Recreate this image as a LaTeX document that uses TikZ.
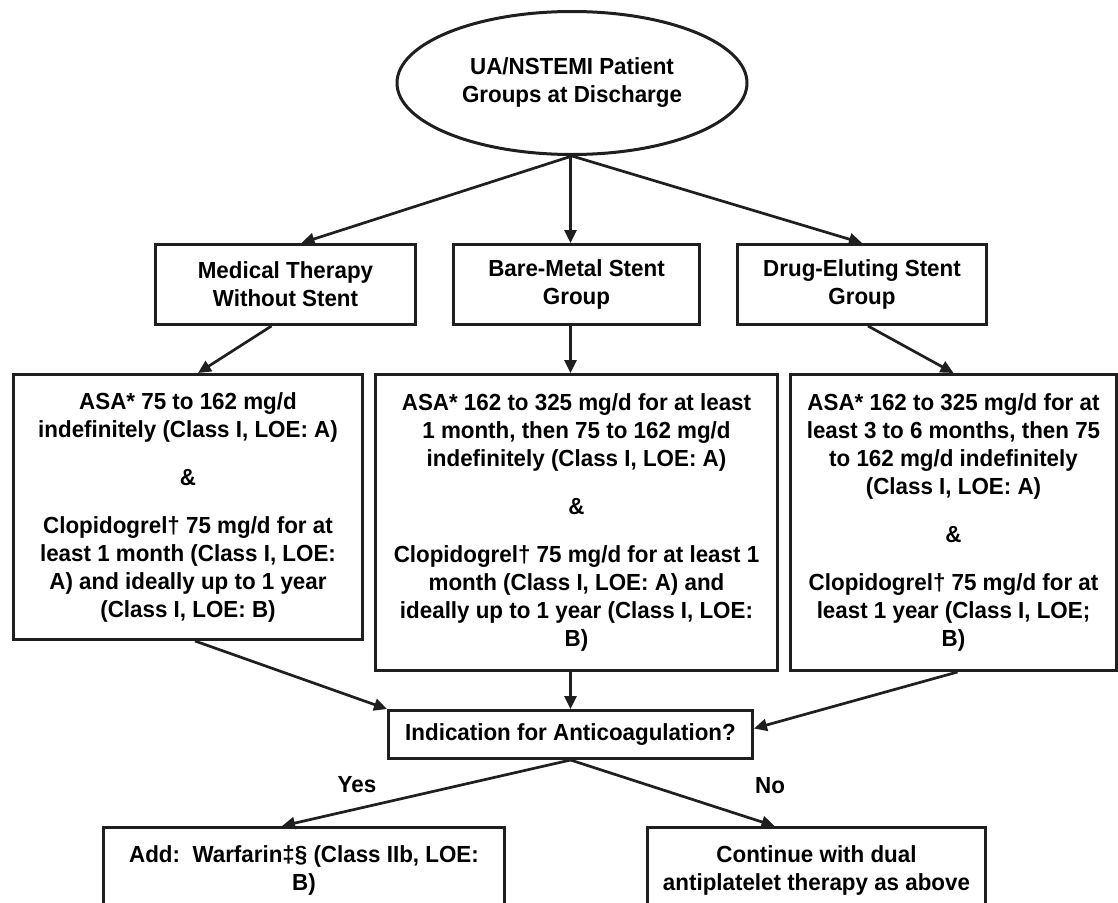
\documentclass[tikz,border=0pt]{standalone}
\usepackage{fontspec}
\setmainfont{Liberation Sans}[FakeStretch=0.96]
\usetikzlibrary{arrows.meta,shapes.geometric,calc}
\definecolor{ln}{gray}{0.12}
\begin{document}
\begin{tikzpicture}[x=1pt,y=-1pt,
  every node/.style={font=\fontsize{23.3pt}{28pt}\selectfont\bfseries, text=black},
  box/.style={draw=ln, line width=3pt, rectangle, align=center, inner sep=0pt, anchor=north west},
  arr/.style={draw=ln, line width=2.7pt, -{Triangle[length=13pt,width=12pt]}},
  lab/.style={anchor=center}
]
\useasboundingbox (0,0) rectangle (1118,902);
\fill[white] (0,0) rectangle (1118,902);
\clip (0,0) rectangle (1118,902);

\node[ellipse, draw=ln, line width=3pt, minimum width=350pt, minimum height=143pt, inner sep=0pt, align=center] (e) at (572,83) {UA/NSTEMI Patient\\Groups at Discharge};

\node[box, minimum width=260pt, minimum height=80pt] (med) at (154,243) {Medical Therapy\\Without Stent};
\node[box, minimum width=246pt, minimum height=80pt] (bare) at (452,243) {Bare-Metal Stent\\Group};
\node[box, minimum width=249pt, minimum height=80pt] (drug) at (736,243) {Drug-Eluting Stent\\Group};

\node[box, minimum width=349pt, minimum height=265pt] (lb) at (12,373)
 {ASA* 75 to 162 mg/d\\indefinitely (Class I, LOE: A)\\[20pt]\&\\[20pt]Clopidogrel† 75 mg/d for at\\least 1 month (Class I, LOE:\\A) and ideally up to 1 year\\(Class I, LOE: B)};
\node[box, minimum width=402pt, minimum height=296pt] (mb) at (374,373)
 {ASA* 162 to 325 mg/d for at least\\1 month, then 75 to 162 mg/d\\indefinitely (Class I, LOE: A)\\[20pt]\&\\[20pt]Clopidogrel† 75 mg/d for at least 1\\month (Class I, LOE: A) and\\ideally up to 1 year (Class I, LOE:\\B)};
\node[box, minimum width=326pt, minimum height=296pt] (rb) at (789,373)
 {ASA* 162 to 325 mg/d for at\\least 3 to 6 months, then 75\\to 162 mg/d indefinitely\\(Class I, LOE: A)\\[20pt]\&\\[20pt]Clopidogrel† 75 mg/d for at\\least 1 year (Class I, LOE;\\B)};

\node[box, minimum width=364pt, minimum height=48pt] (ind) at (387,709) {Indication for Anticoagulation?};

\node[box, minimum width=401pt, minimum height=85pt] (yes) at (102,826) {Add:\ \ Warfarin‡§ (Class IIb, LOE:\\B)};
\node[box, minimum width=338pt, minimum height=85pt] (no) at (646,826) {Continue with dual\\antiplatelet therapy as above};

\node[lab] (yl) at (357,785) {Yes};
\node[lab] (nl) at (770,786) {No};

\draw[arr] (e.south) -- ([xshift=16pt]med.north);
\draw[arr] (e.south -| ind.north) -- (ind.north |- bare.north);
\draw[arr] (e.south) -- (drug.north);

\draw[arr] ([xshift=-14pt]med.south) -- ([xshift=10pt]lb.north);
\draw[arr] (ind.north |- bare.south) -- (ind.north |- mb.north);
\draw[arr] ([xshift=6pt]drug.south) -- (rb.north);

\draw[arr] ([xshift=7pt]lb.south) -- (ind.north west);
\draw[arr] (ind.north |- mb.south) -- (ind.north);
\draw[arr] ([xshift=4pt]rb.south) -- ([yshift=6pt]ind.east);

\draw[arr] (ind.south) -- ([xshift=-22pt]yes.north);
\draw[arr] (ind.south) -- ([xshift=-42pt]no.north);
\end{tikzpicture}
\end{document}
